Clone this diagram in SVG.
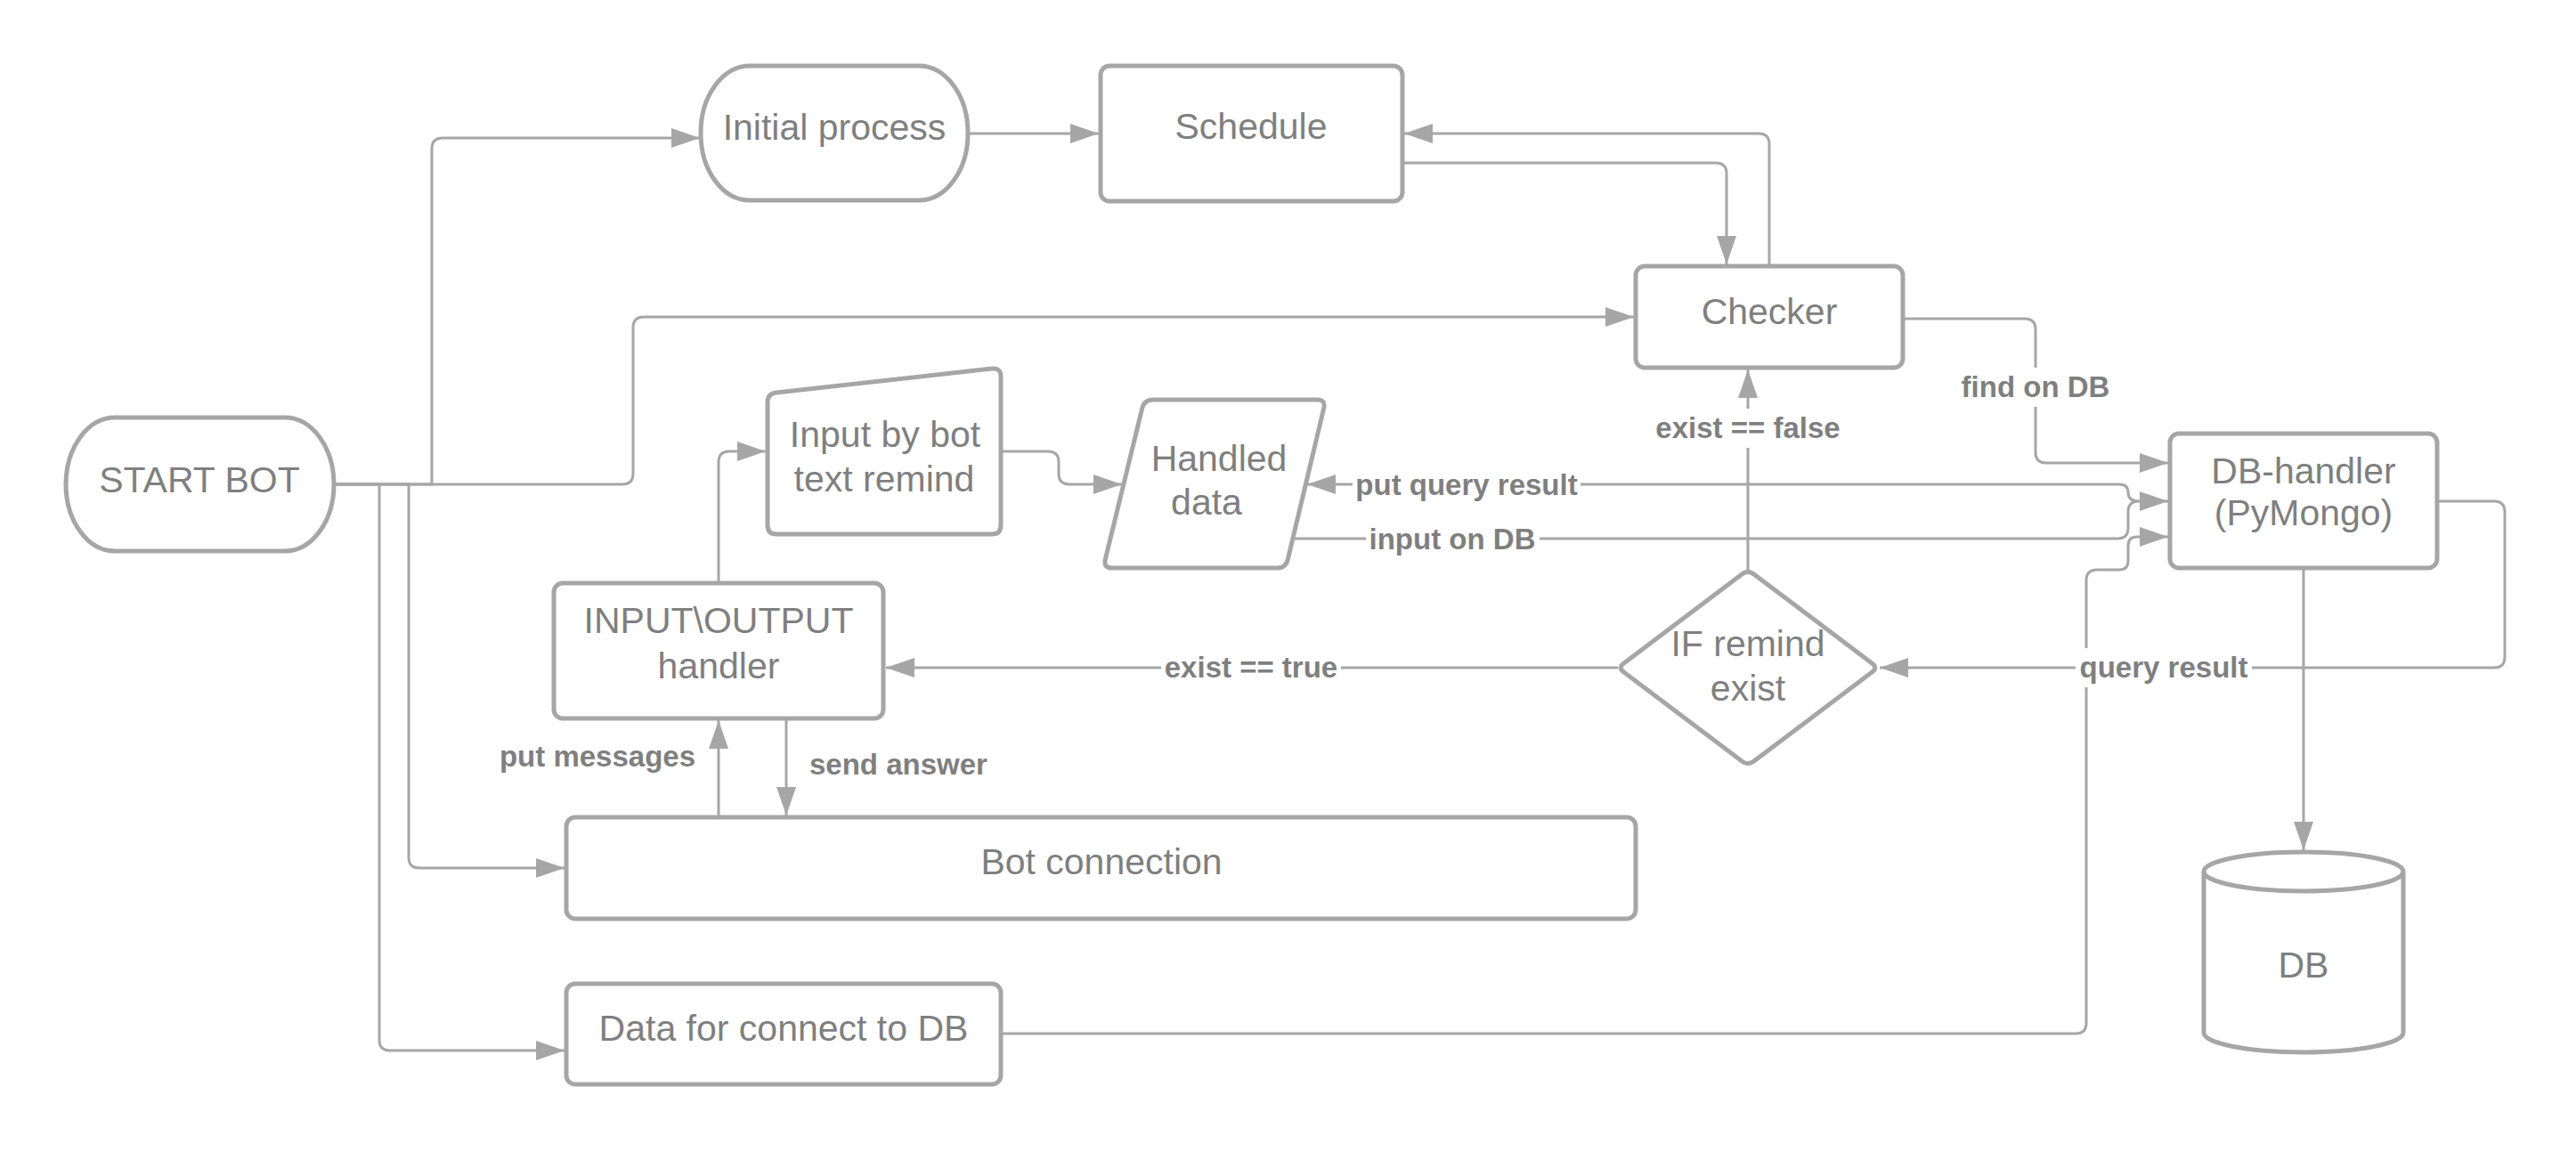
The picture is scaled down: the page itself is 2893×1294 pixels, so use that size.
<svg xmlns="http://www.w3.org/2000/svg" width="2893" height="1294" viewBox="0 0 2893 1294">
<style>
.n{fill:#fff;stroke:#a6a6a6;stroke-width:5;stroke-linejoin:round}
.c{fill:none;stroke:#a6a6a6;stroke-width:3}
.t{font-family:"Liberation Sans",Arial,sans-serif;font-size:41px;fill:#7f7f7f;text-anchor:middle}
.l{font-family:"Liberation Sans",Arial,sans-serif;font-size:33px;font-weight:bold;fill:#7f7f7f;text-anchor:middle}
.bg{fill:#fff;stroke:none}
</style>
<defs>
<marker id="a" markerUnits="userSpaceOnUse" markerWidth="32" markerHeight="22" refX="32" refY="11" orient="auto">
<path d="M0,0 L32,11 L0,22 Z" fill="#a6a6a6"/>
</marker>
</defs>
<rect width="2893" height="1294" fill="#fff"/>
<g id="connectors">
<path class="c" marker-end="url(#a)" d="M375,544 H485 V167 Q485,155 497,155 H786"/>
<path class="c" marker-end="url(#a)" d="M375,544 H699 Q711,544 711,532 V368 Q711,356 723,356 H1835"/>
<path class="c" marker-end="url(#a)" d="M375,544 H459 V963 Q459,975 471,975 H634"/>
<path class="c" marker-end="url(#a)" d="M375,544 H426 V1168 Q426,1180 438,1180 H634"/>
<path class="c" marker-end="url(#a)" d="M1087,150 H1234"/>
<path class="c" marker-end="url(#a)" d="M1575,183 H1927 Q1939,183 1939,195 V297"/>
<path class="c" marker-end="url(#a)" d="M1987,299 V162 Q1987,150 1975,150 H1577"/>
<path class="c" marker-end="url(#a)" d="M2137,358 H2274 Q2286,358 2286,370 V508 Q2286,520 2298,520 H2435"/>
<path class="c" marker-end="url(#a)" d="M807,655 V519 Q807,507 819,507 H860"/>
<path class="c" marker-end="url(#a)" d="M1124,507 H1177 Q1189,507 1189,519 V532 Q1189,544 1201,544 H1260"/>
<path class="c" marker-end="url(#a)" d="M1452,605 H2378 Q2390,605 2390,593 V575 Q2390,563 2402,563 H2435"/>
<path class="c" marker-end="url(#a)" d="M2402,563 Q2390,563 2390,553 Q2390,544 2380,544 H1468"/>
<path class="c" marker-end="url(#a)" d="M1124,1161 H2331 Q2343,1161 2343,1149 V652 Q2343,640 2355,640 H2380 Q2390,640 2390,630 V613 Q2390,603 2400,603 H2435"/>
<path class="c" marker-end="url(#a)" d="M883,807 V916"/>
<path class="c" marker-end="url(#a)" d="M807,918 V809"/>
<path class="c" marker-end="url(#a)" d="M1817,750 H995"/>
<path class="c" marker-end="url(#a)" d="M1963,640 V415"/>
<path class="c" marker-end="url(#a)" d="M2737,563 H2801 Q2813,563 2813,575 V738 Q2813,750 2801,750 H2111"/>
<path class="c" marker-end="url(#a)" d="M2587,638 V955"/>
</g>
<g id="labels">
<rect class="bg" x="1519" y="525" width="256" height="38"/>
<text class="l" x="1647" y="556">put query result</text>
<rect class="bg" x="1534" y="586" width="195" height="38"/>
<text class="l" x="1631" y="617">input on DB</text>
<rect class="bg" x="2198" y="413" width="176" height="44"/>
<text class="l" x="2286" y="446">find on DB</text>
<rect class="bg" x="1856" y="459" width="214" height="44"/>
<text class="l" x="1963" y="492">exist == false</text>
<rect class="bg" x="1304" y="731" width="202" height="38"/>
<text class="l" x="1405" y="761">exist == true</text>
<rect class="bg" x="2331" y="728" width="198" height="44"/>
<text class="l" x="2430" y="761">query result</text>
<text class="l" x="781" y="861" style="text-anchor:end">put messages</text>
<text class="l" x="909" y="870" style="text-anchor:start">send answer</text>
</g>
<g id="start-bot">
<rect class="n" x="74" y="469" width="301" height="150" rx="55" ry="75"/>
<text class="t" x="224" y="553">START BOT</text>
</g>
<g id="initial-process">
<rect class="n" x="787" y="74" width="300" height="151" rx="55" ry="75"/>
<text class="t" x="937" y="157">Initial process</text>
</g>
<g id="schedule">
<rect class="n" x="1236" y="74" width="339" height="152" rx="10"/>
<text class="t" x="1405" y="156">Schedule</text>
</g>
<g id="checker">
<rect class="n" x="1837" y="299" width="300" height="114" rx="10"/>
<text class="t" x="1987" y="364">Checker</text>
</g>
<g id="input-by-bot">
<path class="n" d="M862,452 Q862,442 872,441 L1114,414 Q1124,413 1124,423 L1124,590 Q1124,600 1114,600 L872,600 Q862,600 862,590 Z"/>
<text class="t" x="994" y="502">Input by bot</text>
<text class="t" x="993" y="552">text remind</text>
</g>
<g id="handled-data">
<path class="n" d="M1295,449 L1479,449 Q1489,449 1486.7,458.7 L1446.3,628.3 Q1444,638 1434,638 L1249,638 Q1239,638 1241.3,628.3 L1282.7,458.7 Q1285,449 1295,449 Z"/>
<text class="t" x="1369" y="529">Handled</text>
<text class="t" x="1355" y="578">data</text>
</g>
<g id="db-handler">
<rect class="n" x="2437" y="487" width="300" height="151" rx="10"/>
<text class="t" x="2587" y="543">DB-handler</text>
<text class="t" x="2587" y="590">(PyMongo)</text>
</g>
<g id="io-handler">
<rect class="n" x="622" y="655" width="370" height="152" rx="10"/>
<text class="t" x="807" y="711">INPUT\OUTPUT</text>
<text class="t" x="807" y="762">handler</text>
</g>
<g id="if-remind-exist">
<path class="n" d="M1956.6,644.8 Q1963,640 1969.4,644.8 L2102.6,745.2 Q2109,750 2102.6,754.8 L1969.4,855.2 Q1963,860 1956.6,855.2 L1823.4,754.8 Q1817,750 1823.4,745.2 Z"/>
<text class="t" x="1963" y="737">IF remind</text>
<text class="t" x="1963" y="787">exist</text>
</g>
<g id="bot-connection">
<rect class="n" x="636" y="918" width="1201" height="114" rx="10"/>
<text class="t" x="1237" y="982">Bot connection</text>
</g>
<g id="data-for-connect">
<rect class="n" x="636" y="1105" width="488" height="113" rx="10"/>
<text class="t" x="880" y="1169">Data for connect to DB</text>
</g>
<g id="db">
<path class="n" d="M2475,979 A112,22 0 0 1 2699,979 V1160 A112,22 0 0 1 2475,1160 Z"/>
<path class="n" style="fill:none" d="M2475,979 A112,22 0 0 0 2699,979"/>
<text class="t" x="2587" y="1098">DB</text>
</g>
</svg>
